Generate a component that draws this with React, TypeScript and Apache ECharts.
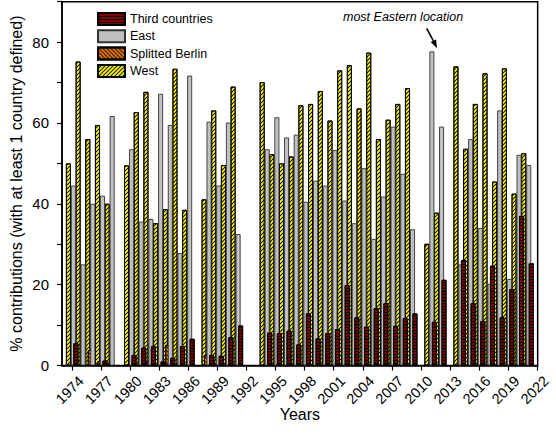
import React, { useEffect, useRef } from "react";
import * as echarts from "echarts";

// ---- data ----
const mainYears = [
  1974, 1975, 1976, 1977, 1978,
  1980, 1981, 1982, 1983, 1984, 1985, 1986,
  1988, 1989, 1990, 1991,
  1994, 1995, 1996, 1997, 1998, 1999, 2000, 2001, 2002, 2003, 2004, 2005, 2006, 2007, 2008, 2009,
  2011, 2012,
  2014, 2015, 2016, 2017, 2018, 2019, 2020, 2021,
];
const westValues = [
  50.0, 75.2, 56.0, 59.5, 40.0,
  49.5, 62.7, 67.7, 35.2, 38.7, 73.4, 38.5,
  41.1, 63.1, 49.6, 69.0,
  70.1, 52.3, 50.0, 51.7, 64.4, 64.7, 67.9, 60.6, 73.0, 74.3, 63.6, 77.4, 56.0, 60.8, 64.7, 68.6,
  30.1, 37.8,
  74.0, 53.6, 64.7, 72.3, 45.5, 73.5, 42.5, 52.5,
];
const eastValues = [
  44.5, 25.0, 40.0, 42.0, 61.7,
  53.5, 35.6, 36.2, 67.2, 59.5, 27.8, 71.7,
  60.3, 44.5, 60.1, 32.5,
  53.5, 61.4, 56.4, 57.1, 40.5, 45.7, 44.5, 53.3, 40.8, 35.2, 48.8, 31.3, 41.8, 59.1, 47.4, 33.7,
  77.7, 59.1,
  25.0, 56.0, 34.0, 20.2, 63.1, 21.4, 52.1, 49.6,
];
const thirdYears = [
  1974, 1977,
  1980, 1981, 1982, 1983, 1984, 1985, 1986,
  1988, 1989, 1990, 1991,
  1994, 1995, 1996, 1997, 1998, 1999, 2000, 2001, 2002, 2003, 2004, 2005, 2006, 2007, 2008, 2009,
  2011, 2012,
  2014, 2015, 2016, 2017, 2018, 2019, 2020, 2021,
];
const thirdValues = [
  5.5, 1.2,
  2.6, 4.4, 4.8, 1.0, 1.9, 4.8, 6.6,
  2.6, 2.4, 7.0, 9.9,
  8.1, 8.0, 8.6, 5.2, 12.9, 6.7, 8.0, 9.0, 19.9, 11.9, 9.6, 14.2, 15.4, 9.8, 11.7, 12.9,
  10.8, 21.2,
  26.1, 15.4, 11.0, 24.7, 11.9, 18.9, 37.0, 25.3,
];
const berlinYears = [1976, 1977, 1982, 1984, 1988, 1989];
const berlinValues = [3.8, 1.1, 1.0, 5.1, 2.5, 1.5];

const xTickYears = [1974, 1977, 1980, 1983, 1986, 1989, 1992, 1995, 1998, 2001, 2004, 2007, 2010, 2013, 2016, 2019, 2022];
const yLabelValues = [0, 20, 40, 60, 80];

const FONT = "'Liberation Sans', Arial, sans-serif";

// hatch symbols: one cell of a continuous diagonal stripe pattern
const SLASH =
  "path://M8.3,0 L10,0 L10,1.7 L1.7,10 L0,10 L0,8.3 Z M0,0 L1.7,0 L0,1.7 Z M10,8.3 L10,10 L8.3,10 Z";
const BACKSLASH =
  "path://M0,0 L1.8,0 L10,8.2 L10,10 L8.2,10 L0,1.8 Z M8.2,0 L10,0 L10,1.8 Z M0,8.2 L0,10 L1.8,10 Z";

function pairs(xs: number[], vs: number[]) {
  return xs.map((x, i) => [x, vs[i]]);
}

export default function App() {
  const ref = useRef<HTMLDivElement>(null);
  useEffect(() => {
    const chart = echarts.init(ref.current!, null, { renderer: "svg" });
    const common = {
      type: "bar",
      barWidth: 5,
      barGap: "-50%",
      emphasis: { disabled: true },
    };
    chart.setOption({
      animation: false,
      backgroundColor: "#fff",
      textStyle: { fontFamily: FONT },
      grid: {
        left: 56.7,
        right: 8.3,
        top: 1.7,
        bottom: 74.5,
        show: true,
        borderColor: "#000",
        borderWidth: 1.5,
      },
      legend: {
        left: 92,
        top: 7,
        orient: "vertical",
        itemWidth: 27,
        itemHeight: 12,
        itemGap: 3.3,
        icon: "rect",
        selectedMode: false,
        data: ["Third countries", "East", "Splitted Berlin", "West"],
        textStyle: { fontFamily: FONT, fontSize: 12.5, color: "#000", lineHeight: 12 },
      },
      xAxis: {
        type: "value",
        min: 1972.95,
        max: 2022.05,
        name: "Years",
        nameLocation: "middle",
        nameGap: 41,
        nameMoveOverlap: false,
        nameTextStyle: { fontFamily: FONT, fontSize: 16, color: "#000" },
        axisLine: { show: true, lineStyle: { color: "#000", width: 1.5 } },
        axisTick: { show: true, inside: false, length: 5, customValues: xTickYears, lineStyle: { color: "#000", width: 1.2 } },
        axisLabel: {
          customValues: xTickYears,
          formatter: (v: number) => String(v) + "{p|}",
          rich: { p: { width: 7 } },
          rotate: 45,
          align: "center",
          verticalAlign: "middle",
          margin: 22,
          hideOverlap: false,
          fontFamily: FONT,
          fontSize: 14.5,
          color: "#000",
        },
        splitLine: { show: false },
      },
      yAxis: {
        type: "value",
        min: 0,
        max: 90,
        interval: 10,
        name: "% contributions (with at least 1 country defined)",
        nameLocation: "middle",
        nameGap: 38,
        nameMoveOverlap: false,
        nameTextStyle: { fontFamily: FONT, fontSize: 16, color: "#000" },
        axisLine: { show: true, lineStyle: { color: "#000", width: 1.5 } },
        axisTick: { show: true, inside: false, length: 5, lineStyle: { color: "#000", width: 1.2 } },
        axisLabel: {
          customValues: yLabelValues,
          margin: 13,
          fontFamily: FONT,
          fontSize: 15,
          color: "#000",
        },
        splitLine: { show: false },
      },
      series: [
        {
          ...common,
          name: "West",
          data: pairs(mainYears, westValues),
          itemStyle: {
            color: "#ffff00",
            borderColor: "#000",
            borderWidth: 0.9,
            decal: { symbol: SLASH, symbolSize: 1, color: "#000", dashArrayX: [3.5, 0], dashArrayY: [3.5, 0], rotation: 0 },
          },
        },
        {
          ...common,
          name: "Splitted Berlin",
          data: pairs(berlinYears, berlinValues),
          itemStyle: {
            color: "#ff8000",
            borderColor: "#000",
            borderWidth: 0.9,
            decal: { symbol: BACKSLASH, symbolSize: 1, color: "#000", dashArrayX: [3.5, 0], dashArrayY: [3.5, 0], rotation: 0 },
          },
        },
        {
          ...common,
          name: "East",
          data: pairs(mainYears, eastValues),
          itemStyle: { color: "#c0c0c0", borderColor: "#333", borderWidth: 0.9 },
        },
        {
          ...common,
          name: "Third countries",
          data: pairs(thirdYears, thirdValues),
          itemStyle: {
            color: "#800000",
            borderColor: "#000",
            borderWidth: 0.9,
            decal: { symbol: "rect", color: "#000", dashArrayX: [1, 0], dashArrayY: [1, 2], rotation: 0 },
          },
        },
      ],
      graphic: [
        {
          type: "text",
          left: 343,
          top: 10,
          style: { text: "most Eastern location", fontFamily: FONT, fontSize: 12.5, fontStyle: "italic", fill: "#000" },
          z: 10,
        },
        {
          type: "line",
          shape: { x1: 426.7, y1: 28.3, x2: 433.4, y2: 40.8 },
          style: { stroke: "#000", lineWidth: 1.6 },
          z: 10,
        },
        {
          type: "polygon",
          shape: { points: [[437, 48.3], [436.1, 39.5], [430.7, 42.1]] },
          style: { fill: "#000" },
          z: 10,
        },
      ],
    });
    return () => chart.dispose();
  }, []);
  return (
    <div
      ref={ref}
      style={{ position: "absolute", left: 0, top: 0, width: 556, height: 440, background: "#fff" }}
    />
  );
}
